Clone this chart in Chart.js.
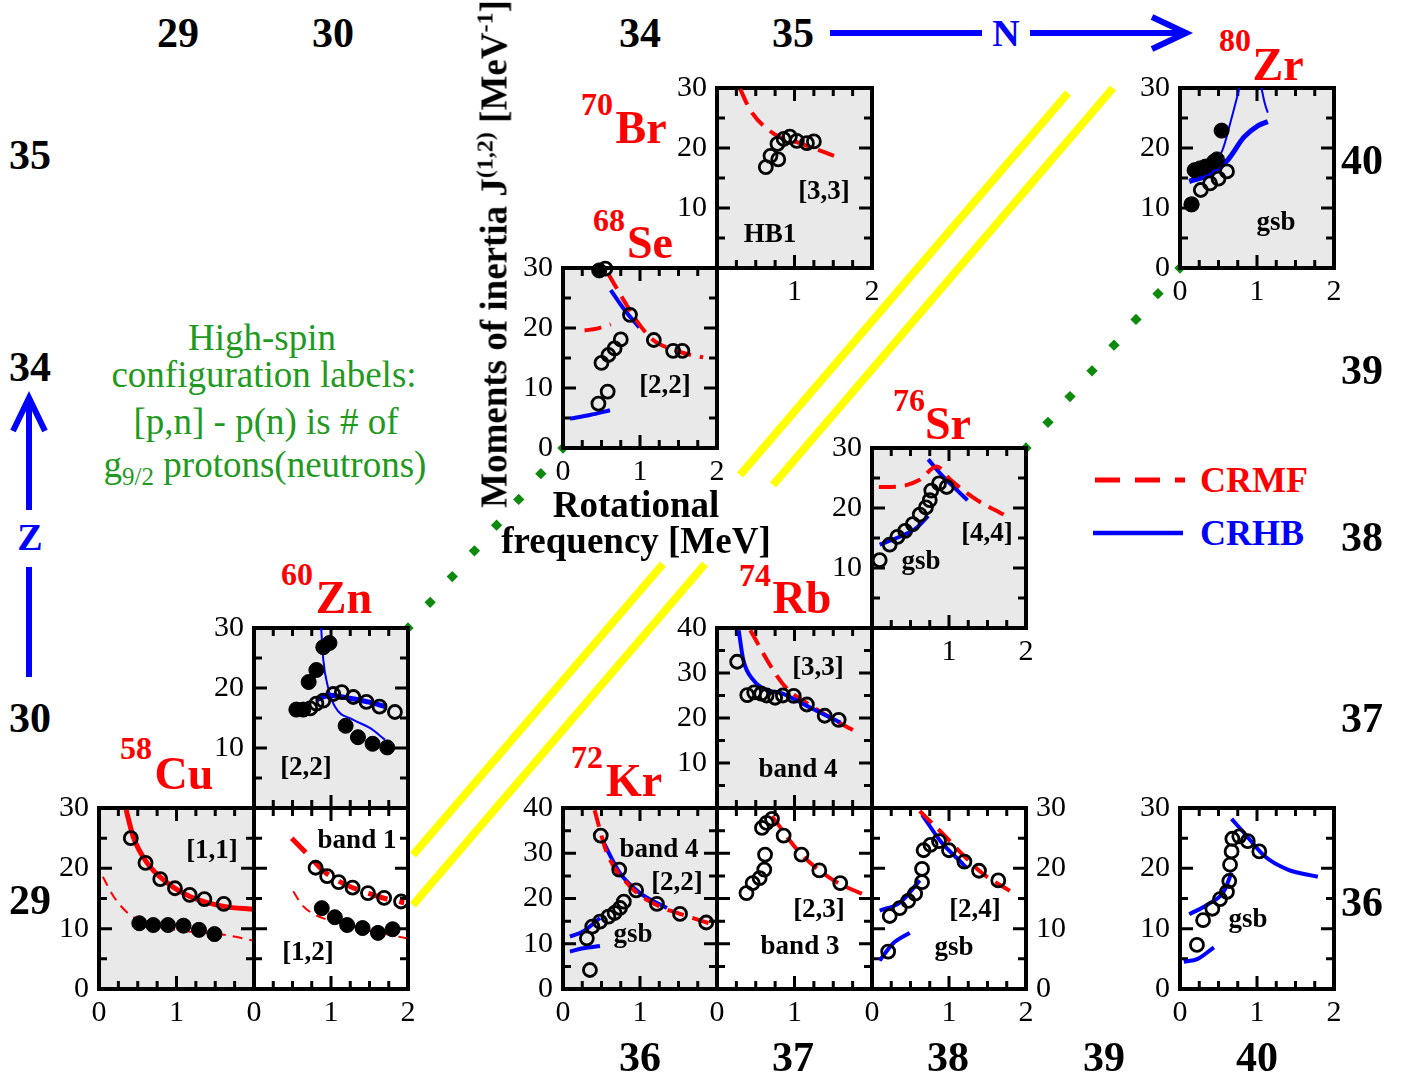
<!DOCTYPE html>
<html><head><meta charset="utf-8">
<script src="https://cdn.jsdelivr.net/npm/chart.js@4/dist/chart.umd.min.js"></script>
<style>
html,body{margin:0;padding:0;background:#fff;}
#stage{position:relative;width:1413px;height:1078px;overflow:hidden;font-family:'Liberation Serif','Times New Roman',serif;}
#deco{position:absolute;left:0;top:0;z-index:0;}
canvas.p{position:absolute;z-index:1;}
.t{position:absolute;white-space:nowrap;line-height:1;transform:translate(-50%,-50%);z-index:2;}
.big{font-weight:bold;font-size:42px;color:#000;}
.nucA{font-weight:bold;font-size:32px;color:#f00;}
.nucE{font-weight:bold;font-size:46px;color:#f00;}
.lab{font-weight:bold;font-size:27px;color:#000;}
.green{font-size:37px;color:#1f9a1f;}
.title{font-weight:bold;font-size:37px;color:#000;}
.leg{font-weight:bold;font-size:36px;transform:translate(0,-50%);}
sup,sub{line-height:0;}
</style></head>
<body><div id="stage">
<svg id="deco" width="1413" height="1078"></svg>
</div>
<script>
// ---------------- data ----------------
// 58Cu [1,1]
const cu_open   = [[0.41,25.0],[0.60,20.9],[0.79,18.2],[0.98,16.7],[1.17,15.6],[1.36,14.9],[1.61,14.1]];
const cu_filled = [[0.52,10.9],[0.70,10.6],[0.89,10.6],[1.09,10.5],[1.29,9.8],[1.49,9.1]];
const cu_crmf_a = [[0.35,29.7],[0.44,25.3],[0.62,20.9],[0.88,17.6],[1.18,15.3],[1.61,13.7],[2.0,13.2]];
const cu_crmf_b = [[0.05,18.6],[0.19,15.3],[0.40,12.3],[0.75,10.4],[1.18,9.5],[1.61,9.0],[2.0,8.0]];
// 60Zn band 1 / [1,2]
const zn1_open   = [[0.80,20.1],[0.95,18.7],[1.10,17.7],[1.28,16.8],[1.48,15.9],[1.69,15.1],[1.91,14.5]];
const zn1_filled = [[0.88,13.4],[1.05,11.9],[1.21,10.6],[1.41,10.1],[1.61,9.3],[1.80,9.9]];
const zn1_crmf_a = [[0.49,25.0],[0.72,22.0],[0.90,19.6],[1.10,17.9],[1.30,16.7],[1.50,15.8],[1.70,15.0],[1.95,14.3]];
const zn1_crmf_b = [[0.51,16.2],[0.62,14.0],[0.75,12.6],[0.95,11.5],[1.20,10.6],[1.50,9.7],[1.98,8.4]];
// 60Zn [2,2]
const zn2_filled = [[0.55,16.4],[0.64,16.4],[0.71,21.0],[0.81,23.0],[0.90,26.8],[0.98,27.5],[1.19,13.7],[1.35,11.8],[1.54,10.7],[1.73,10.1]];
const zn2_open   = [[0.73,16.6],[0.81,17.4],[0.90,17.9],[1.03,19.0],[1.14,19.3],[1.29,18.5],[1.46,17.7],[1.63,16.9],[1.83,16.0]];
const zn2_crhb_thin  = [[0.87,30.5],[0.90,24.7],[0.96,20.2],[1.05,16.9],[1.29,14.7],[1.51,13.3],[1.70,11.4]];
const zn2_crhb_thick = [[0.81,18.0],[0.98,18.8],[1.24,18.3],[1.51,17.6],[1.70,16.9]];
// 68Se [2,2]
const se_filled = [[0.47,29.6]];
const se_open   = [[0.55,29.9],[0.87,22.2],[1.18,18.0],[1.43,16.2],[1.55,16.2],[0.50,14.2],[0.59,15.5],[0.67,16.6],[0.75,18.1],[0.46,7.4],[0.58,9.4]];
const se_crmf_a = [[0.59,29.0],[0.74,25.7],[0.95,21.3],[1.17,18.0],[1.40,16.5],[1.60,15.7],[1.82,15.1]];
const se_crmf_b = [[0.28,19.6],[0.44,19.9],[0.62,20.6]];
const se_crhb_a = [[0.09,4.9],[0.35,5.5],[0.61,6.3]];
const se_crhb_b = [[0.62,26.3],[0.80,23.0],[0.99,20.1]];
// 70Br [3,3] HB1
const br_open = [[0.63,16.8],[0.69,18.7],[0.79,18.1],[0.78,20.7],[0.86,21.5],[0.94,21.9],[1.03,21.2],[1.16,20.8],[1.25,21.1]];
const br_crmf = [[0.30,29.8],[0.43,26.3],[0.73,22.4],[1.07,20.8],[1.53,18.6]];
// 72Kr band 4 [2,2], gsb
const kr_open_b4  = [[0.49,33.9],[0.73,26.4],[0.95,21.8],[1.22,18.8],[1.52,16.6],[1.86,14.7]];
const kr_open_gsb = [[0.31,11.2],[0.38,13.8],[0.48,14.9],[0.59,16.0],[0.67,16.8],[0.74,17.9],[0.79,19.3],[0.35,4.2]];
const kr_crmf      = [[0.41,39.5],[0.57,30.1],[0.87,22.7],[1.21,18.6],[1.56,16.4],[1.98,14.1]];
const kr_crhb_b4   = [[0.52,32.6],[0.74,25.6],[1.00,21.2],[1.35,17.9]];
const kr_crhb_gsb1 = [[0.09,11.6],[0.26,12.7],[0.48,15.7]];
const kr_crhb_gsb2 = [[0.09,8.3],[0.26,9.0],[0.48,9.5]];
// 74Rb band 4 [3,3]
const rb4_open = [[0.26,32.5],[0.39,25.1],[0.48,25.7],[0.57,25.4],[0.64,25.0],[0.75,24.5],[0.85,25.0],[0.99,24.9],[1.16,23.0],[1.39,20.5],[1.57,19.6]];
const rb4_crhb = [[0.28,39.5],[0.34,32.9],[0.47,28.4],[0.64,26.2],[0.82,25.6],[1.16,22.7],[1.59,19.0]];
const rb4_crmf = [[0.43,39.5],[0.73,30.5],[0.90,26.6],[1.16,23.3],[1.51,19.6],[1.79,17.0]];
// 74Rb band 3 [2,3]
const rb3_open = [[0.38,21.2],[0.46,23.4],[0.55,24.5],[0.61,26.4],[0.62,29.7],[0.58,35.6],[0.64,36.7],[0.71,37.6],[0.86,33.9],[1.09,29.7],[1.32,26.2],[1.59,23.4]];
const rb3_crmf = [[0.71,38.2],[1.07,30.1],[1.46,24.5],[1.85,21.2],[1.98,20.5]];
// 76Sr [4,4], gsb
const sr44_open   = [[0.10,11.3],[0.23,13.9],[0.33,15.2],[0.43,16.2],[0.53,17.3],[0.62,18.9],[0.70,20.1],[0.75,21.3],[0.77,22.9],[0.87,24.1],[0.97,23.5]];
const sr44_crhb_a = [[0.10,13.9],[0.36,15.2],[0.58,16.7],[0.73,18.7]];
const sr44_crhb_b = [[0.73,28.1],[0.89,25.7],[1.11,22.9],[1.24,21.3]];
const sr44_crmf   = [[0.09,23.5],[0.36,23.6],[0.62,24.7],[0.84,26.9],[1.02,24.7],[1.33,21.6],[1.71,18.9]];
// 76Sr [2,4], gsb
const sr24_open   = [[0.23,12.1],[0.36,13.4],[0.47,14.6],[0.56,15.8],[0.65,17.7],[0.65,19.9],[0.67,23.0],[0.76,23.9],[0.87,24.5],[1.00,23.0],[1.20,21.1],[1.39,19.6],[1.64,18.0],[0.21,6.2]];
const sr24_crhb_a = [[0.10,13.0],[0.36,14.3],[0.62,18.0]];
const sr24_crhb_b = [[0.65,28.9],[0.89,24.5],[1.15,21.1],[1.22,20.2]];
const sr24_crhb_c = [[0.10,4.7],[0.27,7.5],[0.49,9.3]];
const sr24_crmf   = [[0.62,29.5],[0.89,26.1],[1.20,22.0],[1.42,19.3],[1.81,16.1]];
// 80Zr gsb (upper)
const zr_filled      = [[0.15,10.6],[0.19,16.3],[0.26,16.6],[0.33,16.9],[0.44,17.7],[0.48,18.1],[0.54,22.9]];
const zr_open        = [[0.15,10.6],[0.27,13.0],[0.39,14.1],[0.50,14.9],[0.61,16.1]];
const zr_crhb_thick  = [[0.12,14.4],[0.36,15.5],[0.62,18.0],[0.83,21.8],[1.01,23.7],[1.14,24.4]];
const zr_crhb_thin_a = [[0.12,14.7],[0.36,16.3],[0.55,19.6],[0.66,24.5],[0.74,28.4],[0.78,30.5]];
const zr_crhb_thin_b = [[1.05,30.5],[1.10,27.5],[1.14,25.9]];
// 80Zr gsb (lower)
const zrl_open   = [[0.22,7.3],[0.30,11.4],[0.42,13.3],[0.52,14.9],[0.61,16.1],[0.64,17.9],[0.65,20.6],[0.67,22.8],[0.68,24.9],[0.77,25.3],[0.88,24.5],[1.03,22.8]];
const zrl_crhb_a = [[0.05,4.5],[0.23,5.0],[0.44,6.9]];
const zrl_crhb_b = [[0.12,12.4],[0.36,14.0],[0.57,16.2],[0.67,19.3]];
const zrl_crhb_c = [[0.67,28.2],[0.83,25.9],[1.10,22.0],[1.40,19.8],[1.79,18.6]];

// tick / frame labels
const nTop = ['29','30','34','35'];
const nBottom = ['36','37','38','39','40'];
const zLeft = ['35','34','30','29'];
const zRight = ['40','39','38','37','36'];
const nucA  = ['58','60','68','70','72','74','76','80'];
const nucEl = ['Cu','Zn','Se','Br','Kr','Rb','Sr','Zr'];

// ---------------- layout ----------------
const COLS = [99,254,408,563,717,872,1026,1180,1334];
const ROWS = [88,268,448,628,808,989];
const GRAY = '#e9e9e9';
const stage = document.getElementById('stage');
Chart.defaults.font.family = "'Liberation Serif','Times New Roman',serif";

const framePlugin = {
  id:'frame',
  beforeDatasetsDraw(chart, args, o){
    const {ctx, chartArea:a, scales:{x,y}} = chart;
    ctx.save();
    if (o.bg){ ctx.fillStyle=o.bg; ctx.fillRect(a.left,a.top,a.right-a.left,a.bottom-a.top); }
    ctx.strokeStyle='#000'; ctx.lineWidth=3; ctx.beginPath();
    for (let i=1;i<8;i++){ const v=i*0.25; const px=x.getPixelForValue(v); const len=(i%4===0)?13:8;
      ctx.moveTo(px,a.bottom); ctx.lineTo(px,a.bottom-len); ctx.moveTo(px,a.top); ctx.lineTo(px,a.top+len); }
    for (let v=5; v<o.ymax; v+=5){ const py=y.getPixelForValue(v); const len=(v%10===0)?13:8;
      ctx.moveTo(a.left,py); ctx.lineTo(a.left+len,py); ctx.moveTo(a.right,py); ctx.lineTo(a.right-len,py); }
    ctx.stroke();
    ctx.lineWidth=4; ctx.strokeRect(a.left,a.top,a.right-a.left,a.bottom-a.top);
    ctx.restore();
  }
};

const xy = d => d.map(([x,y])=>({x,y}));
const openPts = d => ({data:xy(d), showLine:false, pointRadius:6.5, pointBorderWidth:2.8, pointBorderColor:'#000', pointBackgroundColor:'rgba(0,0,0,0)', clip:false, order:0});
const filledPts = d => ({data:xy(d), showLine:false, pointRadius:7.5, pointBorderWidth:1, pointBorderColor:'#000', pointBackgroundColor:'#000', clip:false, order:0});
const line = (d,color,w,dash) => ({data:xy(d), showLine:true, pointRadius:0, borderColor:color, borderWidth:w, borderDash:dash||[], cubicInterpolationMode:'monotone', fill:false, order:1});
const crmf = d => line(d,'#ff0000',4,[17,9]);
const crmfThin = d => line(d,'#ff0000',2,[10,7]);
const crhb = d => line(d,'#0000ff',4);

function panel(col,row,o){
  const L=COLS[col], R=COLS[col+1], T=ROWS[row], B=ROWS[row+1];
  const mL=70,mR=70,mT=30,mB=50,yW=60,xH=44;
  const cv=document.createElement('canvas');
  cv.className='p'; cv.width=R-L+mL+mR; cv.height=B-T+mT+mB;
  cv.style.left=(L-mL)+'px'; cv.style.top=(T-mT)+'px';
  stage.appendChild(cv);
  const tickFont={size:30};
  new Chart(cv,{
    type:'scatter',
    data:{datasets:o.ds},
    options:{
      responsive:false, animation:false, devicePixelRatio:1, events:[],
      layout:{padding:{left:o.yRight?mL:mL-yW, right:o.yRight?mR-yW:mR, top:mT, bottom:mB-xH}},
      plugins:{legend:{display:false}, tooltip:{enabled:false}, frame:{bg:o.bg, ymax:o.ymax}},
      scales:{
        x:{type:'linear',min:0,max:2,grid:{display:false,drawTicks:false},border:{display:false},
           ticks:{stepSize:1,autoSkip:false,maxRotation:0,minRotation:0,padding:6,color:'#000',font:tickFont,
                  callback:v=>o.xl.includes(v)?String(v):''},
           afterFit:s=>{s.height=xH;s.paddingLeft=0;s.paddingRight=0;}},
        y:{type:'linear',position:o.yRight?'right':'left',min:0,max:o.ymax,grid:{display:false,drawTicks:false},border:{display:false},
           ticks:{stepSize:10,autoSkip:false,padding:10,color:'#000',font:tickFont,
                  callback:v=>o.yl.includes(v)?String(v):''},
           afterFit:s=>{s.width=yW;s.paddingTop=0;s.paddingBottom=0;}}
      }
    },
    plugins:[framePlugin]
  });
}

// 58Cu
panel(0,4,{ymax:30,bg:GRAY,xl:[0,1],yl:[0,10,20,30],ds:[
  openPts(cu_open),filledPts(cu_filled),line(cu_crmf_a,'#ff0000',5),crmfThin(cu_crmf_b)]});
// 60Zn band 1
panel(1,4,{ymax:30,bg:null,xl:[0,1,2],yl:[],ds:[
  openPts(zn1_open),filledPts(zn1_filled),line(zn1_crmf_a,'#ff0000',5,[20,12]),crmfThin(zn1_crmf_b)]});
// 60Zn [2,2]
panel(1,3,{ymax:30,bg:GRAY,xl:[],yl:[10,20,30],ds:[
  filledPts(zn2_filled),openPts(zn2_open),line(zn2_crhb_thin,'#0000ff',2),line(zn2_crhb_thick,'#0000ff',5)]});
// 68Se
panel(3,1,{ymax:30,bg:GRAY,xl:[0,1,2],yl:[0,10,20,30],ds:[
  filledPts(se_filled),openPts(se_open),crmf(se_crmf_a),crmf(se_crmf_b),crhb(se_crhb_a),crhb(se_crhb_b)]});
// 70Br
panel(4,0,{ymax:30,bg:GRAY,xl:[1,2],yl:[10,20,30],ds:[openPts(br_open),crmf(br_crmf)]});
// 72Kr
panel(3,4,{ymax:40,bg:GRAY,xl:[0,1],yl:[0,10,20,30,40],ds:[
  openPts(kr_open_b4),openPts(kr_open_gsb),crmf(kr_crmf),crhb(kr_crhb_b4),crhb(kr_crhb_gsb1),crhb(kr_crhb_gsb2)]});
// 74Rb band 4
panel(4,3,{ymax:40,bg:GRAY,xl:[],yl:[10,20,30,40],ds:[openPts(rb4_open),crhb(rb4_crhb),crmf(rb4_crmf)]});
// 74Rb band 3
panel(4,4,{ymax:40,bg:null,xl:[0,1],yl:[],ds:[openPts(rb3_open),crmf(rb3_crmf)]});
// 76Sr [4,4]
panel(5,2,{ymax:30,bg:GRAY,xl:[1,2],yl:[10,20,30],ds:[
  openPts(sr44_open),crmf(sr44_crmf),crhb(sr44_crhb_a),crhb(sr44_crhb_b)]});
// 76Sr [2,4]
panel(5,4,{ymax:30,bg:null,xl:[0,1,2],yl:[0,10,20,30],yRight:true,ds:[
  openPts(sr24_open),crmf(sr24_crmf),crhb(sr24_crhb_a),crhb(sr24_crhb_b),crhb(sr24_crhb_c)]});
// 80Zr upper
panel(7,0,{ymax:30,bg:GRAY,xl:[0,1,2],yl:[0,10,20,30],ds:[
  filledPts(zr_filled),openPts(zr_open),line(zr_crhb_thick,'#0000ff',5),line(zr_crhb_thin_a,'#0000ff',2),line(zr_crhb_thin_b,'#0000ff',2)]});
// 80Zr lower
panel(7,4,{ymax:30,bg:null,xl:[0,1,2],yl:[0,10,20,30],ds:[
  openPts(zrl_open),crhb(zrl_crhb_a),crhb(zrl_crhb_b),crhb(zrl_crhb_c)]});

// ---------------- text ----------------
function txt(html,x,y,cls,extra){
  const d=document.createElement('div'); d.className='t '+cls; d.innerHTML=html;
  d.style.left=x+'px'; d.style.top=y+'px'; if(extra) Object.assign(d.style,extra);
  stage.appendChild(d); return d;
}
[178,333,640,793].forEach((x,i)=>txt(nTop[i],x,33,'big'));
[640,793,948,1104,1257].forEach((x,i)=>txt(nBottom[i],x,1057,'big'));
[155,367,718,900].forEach((y,i)=>txt(zLeft[i],30,y,'big'));
[160,370,537,718,902].forEach((y,i)=>txt(zRight[i],1362,y,'big'));

const nucApos=[[136,748],[297,574],[609,220],[597,104],[587,757],[755,575],[909,400],[1235,40]];
const nucEpos=[[184,774],[344,598],[650,243],[641,128],[634,781],[802,598],[948,424],[1278,65]];
nucA.forEach((a,i)=>txt(a,nucApos[i][0],nucApos[i][1],'nucA'));
nucEl.forEach((e,i)=>txt(e,nucEpos[i][0],nucEpos[i][1],'nucE'));

const panelLabels=[
 ['[1,1]',212,849],['band 1',357,839],['[1,2]',308,951],['[2,2]',306,766],
 ['[2,2]',665,384],['[3,3]',824,190],['HB1',770,233],
 ['band 4',659,848],['[2,2]',677,881],['gsb',633,933],
 ['[3,3]',818,666],['band 4',798,768],['[2,3]',819,908],['band 3',800,945],
 ['[4,4]',987,532],['gsb',921,560],['[2,4]',975,908],['gsb',954,946],
 ['gsb',1276,221],['gsb',1248,918]];
panelLabels.forEach(([s,x,y])=>txt(s,x,y,'lab'));

txt('High-spin',262,337,'green');
txt('configuration labels:',264,374,'green');
txt('[p,n] - p(n) is # of',266,421,'green');
txt('g<sub style="font-size:25px;vertical-align:-8px">9/2</sub> protons(neutrons)',265,464,'green');

txt('Moments of inertia J<sup style="font-size:24px;vertical-align:14px">(1,2)</sup> [MeV<sup style="font-size:24px;vertical-align:14px">-1</sup>]',
    494,254,'title',{transform:'translate(-50%,-50%) rotate(-90deg)'});
txt('Rotational',636,504,'title');
txt('frequency [MeV]',636,540,'title');

txt('N',1006,33,'big',{color:'#0000ff',fontSize:'38px'});
txt('Z',30,537,'big',{color:'#0000ff',fontSize:'38px'});
txt('CRMF',1200,480,'leg',{color:'#ff0000'});
txt('CRHB',1200,533,'leg',{color:'#0000ff'});

// ---------------- decorations ----------------
const svg=document.getElementById('deco');
const NS='http://www.w3.org/2000/svg';
function el(tag,attrs){const e=document.createElementNS(NS,tag);for(const k in attrs)e.setAttribute(k,attrs[k]);svg.appendChild(e);return e;}
// yellow double line
[[413,855,663,564],[740,475,1068,93],[413,905,705,564],[773,485,1113,88]].forEach(([a,b,c,d])=>
  el('line',{x1:a,y1:b,x2:c,y2:d,stroke:'#ffff00','stroke-width':8}));
// green dotted connectors
function diamonds(x0,y0,x1,y1,n){for(let i=0;i<=n;i++){const x=x0+(x1-x0)*i/n,y=y0+(y1-y0)*i/n;
  el('rect',{x:x-4,y:y-4,width:8,height:8,fill:'#0b8a0b',transform:`rotate(45 ${x} ${y})`});}}
diamonds(408,628,563,448,7);
diamonds(1026,448,1180,268,7);
// arrows
const B='#0000ff';
el('line',{x1:830,y1:33,x2:982,y2:33,stroke:B,'stroke-width':6});
el('line',{x1:1030,y1:33,x2:1183,y2:33,stroke:B,'stroke-width':6});
el('polyline',{points:'1152,17 1186,33 1152,49',fill:'none',stroke:B,'stroke-width':6});
el('line',{x1:29,y1:677,x2:29,y2:567,stroke:B,'stroke-width':6});
el('line',{x1:29,y1:510,x2:29,y2:400,stroke:B,'stroke-width':6});
el('polyline',{points:'13,431 29,398 45,431',fill:'none',stroke:B,'stroke-width':6});
// legend lines
el('line',{x1:1095,y1:480,x2:1185,y2:480,stroke:'#ff0000','stroke-width':5,'stroke-dasharray':'25 15'});
el('line',{x1:1093,y1:533,x2:1183,y2:533,stroke:B,'stroke-width':4.5});
</script>
</body></html>
